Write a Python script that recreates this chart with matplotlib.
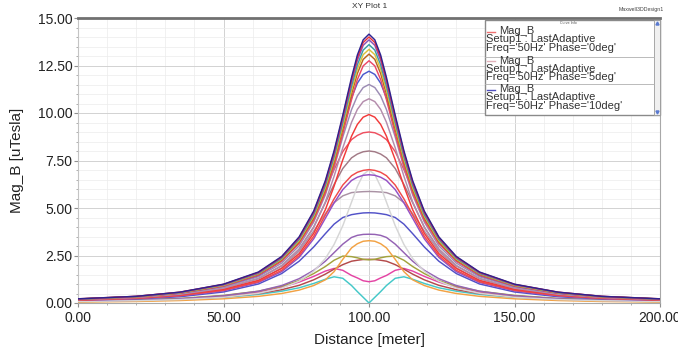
import matplotlib
matplotlib.use("Agg")
import matplotlib.pyplot as plt
from matplotlib.patches import Rectangle
from matplotlib.lines import Line2D
from matplotlib.ticker import MultipleLocator, FixedLocator

plt.rcParams['font.family'] = ['Liberation Sans', 'DejaVu Sans']

# Distance along the profile [meter]
distance = [0, 20, 35, 50, 62, 70, 76, 81, 85, 88, 91, 94, 96, 98, 100,
            102, 104, 106, 109, 112, 115, 119, 124, 130, 138, 150, 165, 180, 200]

# Mag_B [uTesla] for each phase sweep curve
mag_b_01 = [0.22, 0.35, 0.57, 0.99, 1.63, 2.45, 3.48, 4.84, 6.44, 8.01, 9.89, 11.87, 13.05, 13.85, 14.15,
            13.85, 13.05, 11.87, 9.89, 8.01, 6.44, 4.84, 3.48, 2.45, 1.63, 0.99, 0.57, 0.35, 0.22]
mag_b_02 = [0.22, 0.35, 0.57, 0.98, 1.61, 2.42, 3.44, 4.79, 6.37, 7.92, 9.79, 11.75, 12.91, 13.71, 14.0,
            13.71, 12.91, 11.75, 9.79, 7.92, 6.37, 4.79, 3.44, 2.42, 1.61, 0.98, 0.57, 0.35, 0.22]
mag_b_03 = [0.21, 0.35, 0.56, 0.97, 1.59, 2.40, 3.41, 4.74, 6.30, 7.84, 9.68, 11.62, 12.77, 13.56, 13.85,
            13.56, 12.77, 11.62, 9.68, 7.84, 6.30, 4.74, 3.41, 2.40, 1.59, 0.97, 0.56, 0.35, 0.21]
mag_b_04 = [0.21, 0.34, 0.55, 0.95, 1.56, 2.35, 3.35, 4.65, 6.19, 7.70, 9.51, 11.41, 12.54, 13.31, 13.6,
            13.31, 12.54, 11.41, 9.51, 7.70, 6.19, 4.65, 3.35, 2.35, 1.56, 0.95, 0.55, 0.34, 0.21]
mag_b_05 = [0.21, 0.33, 0.54, 0.93, 1.54, 2.31, 3.28, 4.57, 6.07, 7.56, 9.33, 11.20, 12.31, 13.07, 13.35,
            13.07, 12.31, 11.20, 9.33, 7.56, 6.07, 4.57, 3.28, 2.31, 1.54, 0.93, 0.54, 0.33, 0.21]
mag_b_06 = [0.20, 0.33, 0.53, 0.92, 1.51, 2.27, 3.22, 4.48, 5.96, 7.41, 9.16, 10.99, 12.08, 12.82, 13.1,
            12.82, 12.08, 10.99, 9.16, 7.41, 5.96, 4.48, 3.22, 2.27, 1.51, 0.92, 0.53, 0.33, 0.20]
mag_b_07 = [0.20, 0.32, 0.52, 0.89, 1.47, 2.21, 3.14, 4.36, 5.80, 7.22, 8.91, 10.70, 11.76, 12.48, 12.75,
            12.48, 11.76, 10.70, 8.91, 7.22, 5.80, 4.36, 3.14, 2.21, 1.47, 0.89, 0.52, 0.32, 0.20]
mag_b_08 = [0.20, 0.33, 0.52, 0.89, 1.46, 2.23, 3.20, 4.51, 6.04, 7.56, 9.27, 10.80, 11.57, 12.03, 12.2,
            12.03, 11.57, 10.80, 9.27, 7.56, 6.04, 4.51, 3.20, 2.23, 1.46, 0.89, 0.52, 0.33, 0.20]
mag_b_09 = [0.19, 0.31, 0.49, 0.84, 1.38, 2.10, 3.01, 4.26, 5.69, 7.13, 8.74, 10.18, 10.90, 11.34, 11.5,
            11.34, 10.90, 10.18, 8.74, 7.13, 5.69, 4.26, 3.01, 2.10, 1.38, 0.84, 0.49, 0.31, 0.19]
mag_b_10 = [0.18, 0.29, 0.46, 0.78, 1.29, 1.97, 2.82, 3.98, 5.32, 6.67, 8.17, 9.51, 10.19, 10.60, 10.75,
            10.60, 10.19, 9.51, 8.17, 6.67, 5.32, 3.98, 2.82, 1.97, 1.29, 0.78, 0.46, 0.29, 0.18]
mag_b_11 = [0.16, 0.27, 0.43, 0.72, 1.19, 1.82, 2.60, 3.67, 4.91, 6.15, 7.54, 8.78, 9.40, 9.78, 9.92,
            9.78, 9.40, 8.78, 7.54, 6.15, 4.91, 3.67, 2.60, 1.82, 1.19, 0.72, 0.43, 0.27, 0.16]
mag_b_12 = [0.19, 0.31, 0.50, 0.86, 1.44, 2.21, 3.20, 4.50, 5.94, 7.02, 7.97, 8.60, 8.82, 8.96, 9.0,
            8.96, 8.82, 8.60, 7.97, 7.02, 5.94, 4.50, 3.20, 2.21, 1.44, 0.86, 0.50, 0.31, 0.19]
mag_b_13 = [0.17, 0.27, 0.44, 0.76, 1.28, 1.96, 2.84, 4.00, 5.28, 6.24, 7.08, 7.64, 7.84, 7.96, 8.0,
            7.96, 7.84, 7.64, 7.08, 6.24, 5.28, 4.00, 2.84, 1.96, 1.28, 0.76, 0.44, 0.27, 0.17]
mag_b_14 = [0.15, 0.24, 0.39, 0.67, 1.12, 1.72, 2.49, 3.51, 4.63, 5.48, 6.21, 6.70, 6.88, 6.98, 7.02,
            6.98, 6.88, 6.70, 6.21, 5.48, 4.63, 3.51, 2.49, 1.72, 1.12, 0.67, 0.39, 0.24, 0.15]
mag_b_15 = [0.14, 0.23, 0.37, 0.64, 1.08, 1.65, 2.40, 3.38, 4.46, 5.27, 5.97, 6.45, 6.62, 6.72, 6.75,
            6.72, 6.62, 6.45, 5.97, 5.27, 4.46, 3.38, 2.40, 1.65, 1.08, 0.64, 0.37, 0.23, 0.14]
mag_b_16 = [0.08, 0.12, 0.18, 0.30, 0.51, 0.78, 1.15, 1.67, 2.34, 3.08, 4.07, 5.31, 6.13, 6.76, 7.0,
            6.76, 6.13, 5.31, 4.07, 3.08, 2.34, 1.67, 1.15, 0.78, 0.51, 0.30, 0.18, 0.12, 0.08]
mag_b_17 = [0.16, 0.25, 0.40, 0.68, 1.17, 1.85, 2.73, 3.79, 4.70, 5.28, 5.64, 5.81, 5.84, 5.86, 5.87,
            5.86, 5.84, 5.81, 5.64, 5.28, 4.70, 3.79, 2.73, 1.85, 1.17, 0.68, 0.40, 0.25, 0.16]
mag_b_18 = [0.13, 0.21, 0.33, 0.58, 1.00, 1.55, 2.20, 2.95, 3.65, 4.15, 4.50, 4.65, 4.70, 4.74, 4.75,
            4.74, 4.70, 4.65, 4.50, 4.15, 3.65, 2.95, 2.20, 1.55, 1.00, 0.58, 0.33, 0.21, 0.13]
mag_b_19 = [0.09, 0.14, 0.22, 0.38, 0.62, 0.92, 1.28, 1.72, 2.20, 2.65, 3.10, 3.45, 3.56, 3.61, 3.62,
            3.61, 3.56, 3.45, 3.10, 2.65, 2.20, 1.72, 1.28, 0.92, 0.62, 0.38, 0.22, 0.14, 0.09]
mag_b_20 = [0.05, 0.08, 0.13, 0.22, 0.35, 0.50, 0.68, 0.92, 1.22, 1.65, 2.30, 2.90, 3.12, 3.25, 3.28,
            3.25, 3.12, 2.90, 2.30, 1.65, 1.22, 0.92, 0.68, 0.50, 0.35, 0.22, 0.13, 0.08, 0.05]
mag_b_21 = [0.10, 0.16, 0.24, 0.40, 0.62, 0.88, 1.18, 1.55, 1.92, 2.25, 2.47, 2.44, 2.38, 2.30, 2.27,
            2.30, 2.38, 2.44, 2.47, 2.25, 1.92, 1.55, 1.18, 0.88, 0.62, 0.40, 0.24, 0.16, 0.10]
mag_b_22 = [0.08, 0.13, 0.20, 0.32, 0.50, 0.70, 0.93, 1.22, 1.52, 1.78, 2.02, 2.20, 2.25, 2.29, 2.30,
            2.29, 2.25, 2.20, 2.02, 1.78, 1.52, 1.22, 0.93, 0.70, 0.50, 0.32, 0.20, 0.13, 0.08]
mag_b_23 = [0.09, 0.14, 0.22, 0.37, 0.58, 0.83, 1.10, 1.40, 1.68, 1.82, 1.72, 1.45, 1.32, 1.17, 1.12,
            1.17, 1.32, 1.45, 1.72, 1.82, 1.68, 1.40, 1.10, 0.83, 0.58, 0.37, 0.22, 0.14, 0.09]
mag_b_24 = [0.07, 0.11, 0.18, 0.29, 0.45, 0.62, 0.80, 1.03, 1.25, 1.38, 1.30, 0.92, 0.60, 0.30, 0.00,
            0.30, 0.60, 0.92, 1.30, 1.38, 1.25, 1.03, 0.80, 0.62, 0.45, 0.29, 0.18, 0.11, 0.07]

curve_colors = ['#2e2290', '#e8323c', '#8b52b8', '#3a9ea6', '#dcc23a', '#b8661e',
                '#ec4868', '#4a58cc', '#9c8cb4', '#b48cac', '#f23a3a', '#ee5060',
                '#a27a86', '#f04a4a', '#9450c4', '#d6d6d6', '#aa92a4', '#5252c8',
                '#9462b4', '#f2a244', '#a2a23c', '#b44a4a', '#e444a4', '#44c8c8']

curves = [mag_b_01, mag_b_02, mag_b_03, mag_b_04, mag_b_05, mag_b_06, mag_b_07, mag_b_08,
          mag_b_09, mag_b_10, mag_b_11, mag_b_12, mag_b_13, mag_b_14, mag_b_15, mag_b_16,
          mag_b_17, mag_b_18, mag_b_19, mag_b_20, mag_b_21, mag_b_22, mag_b_23, mag_b_24]

x_ticks = [0, 50, 100, 150, 200]
x_tick_labels = ['0.00', '50.00', '100.00', '150.00', '200.00']
y_ticks = [0, 2.5, 5, 7.5, 10, 12.5, 15]
y_tick_labels = ['0.00', '2.50', '5.00', '7.50', '10.00', '12.50', '15.00']

legend_colors = ['#f07070', '#e2b2ba', '#5050c0']
legend_phases = ['0deg', '5deg', '10deg']

W, H = 678, 355
fig = plt.figure(figsize=(W / 100, H / 100), dpi=100)
fig.patch.set_facecolor('white')


def fx(px):
    return px / W


def fy(py):
    return 1 - py / H


ax = fig.add_axes([fx(78), fy(303), (660 - 78) / W, (303 - 18) / H])

# draw from the lowest curve up so the tallest ones sit on top
for ys, col in reversed(list(zip(curves, curve_colors))):
    ax.plot(distance, ys, color=col, lw=1.05, solid_joinstyle='round', zorder=3)

ax.set_xlim(0, 200)
ax.set_ylim(0, 15)
ax.xaxis.set_major_locator(FixedLocator(x_ticks))
ax.set_xticklabels(x_tick_labels)
ax.yaxis.set_major_locator(FixedLocator(y_ticks))
ax.set_yticklabels(y_tick_labels)
ax.xaxis.set_minor_locator(MultipleLocator(10))
ax.yaxis.set_minor_locator(MultipleLocator(0.5))

ax.grid(which='major', color='#d2d2d2', lw=0.7, zorder=0)
ax.grid(which='minor', color='#ececec', lw=0.5, zorder=0)
ax.set_axisbelow(True)

ax.tick_params(axis='both', which='major', labelsize=10, colors='#909090',
               labelcolor='#222222', length=3, width=0.8)
ax.tick_params(axis='both', which='minor', colors='#a0a0a0', length=1.5, width=0.6)
ax.tick_params(axis='x', pad=3)
ax.tick_params(axis='y', pad=1)

for side, col, lw in [('top', '#707070', 2.0), ('left', '#c4c4c4', 0.8),
                      ('right', '#a8a8a8', 0.8), ('bottom', '#a8a8a8', 0.8)]:
    ax.spines[side].set_color(col)
    ax.spines[side].set_linewidth(lw)

fig.text(fx(370), fy(340), 'Distance [meter]', ha='center', va='center',
         fontsize=11, color='#222222')
fig.text(fx(17), fy(160), 'Mag_B [uTesla]', ha='center', va='center',
         rotation=90, fontsize=11, color='#222222')

fig.text(fx(370), fy(7), 'XY Plot 1', ha='center', va='center', fontsize=6, color='#333333')
fig.text(fx(641), fy(9), 'Maxwell3DDesign1', ha='center', va='center', fontsize=3.8,
         color='#444444')

# curve info box
box = Rectangle((fx(485), fy(115)), (660 - 485) / W, (115 - 20) / H, transform=fig.transFigure,
                facecolor='white', edgecolor='#8a8a8a', lw=1.0, zorder=10)
fig.add_artist(box)
scroll = Rectangle((fx(654), fy(115)), 6 / W, (115 - 20) / H, transform=fig.transFigure,
                   facecolor='#f0f0f0', edgecolor='#9a9a9a', lw=0.6, zorder=11)
fig.add_artist(scroll)
for yy, mk in [(23, '^'), (112, 'v')]:
    fig.add_artist(Line2D([fx(657)], [fy(yy)], marker=mk, markersize=2.2, color='#5a7ad0',
                          transform=fig.transFigure, zorder=12))
for yy in (57, 84):
    fig.add_artist(Line2D([fx(485), fx(654)], [fy(yy), fy(yy)], color='#b0b0b0', lw=0.6,
                          transform=fig.transFigure, zorder=11))
fig.text(fx(568), fy(23), 'Curve Info', ha='center', va='center', fontsize=2.6,
         color='#555555', zorder=12)

entry_tops = [31.5, 61, 89.5]
for top, col, ph in zip(entry_tops, legend_colors, legend_phases):
    fig.add_artist(Line2D([fx(487), fx(495)], [fy(top), fy(top)], color=col, lw=1.0,
                          transform=fig.transFigure, zorder=12))
    fig.text(fx(499), fy(top), 'Mag_B', ha='left', va='center', fontsize=8,
             color='#333333', zorder=12)
    fig.text(fx(486.5), fy(top + 8), 'Setup1 : LastAdaptive', ha='left', va='center',
             fontsize=8, color='#333333', zorder=12)
    fig.text(fx(486.5), fy(top + 16.5), "Freq='50Hz' Phase='%s'" % ph, ha='left',
             va='center', fontsize=8, color='#333333', zorder=12)

fig.savefig('out.png', dpi=100, facecolor='white')
